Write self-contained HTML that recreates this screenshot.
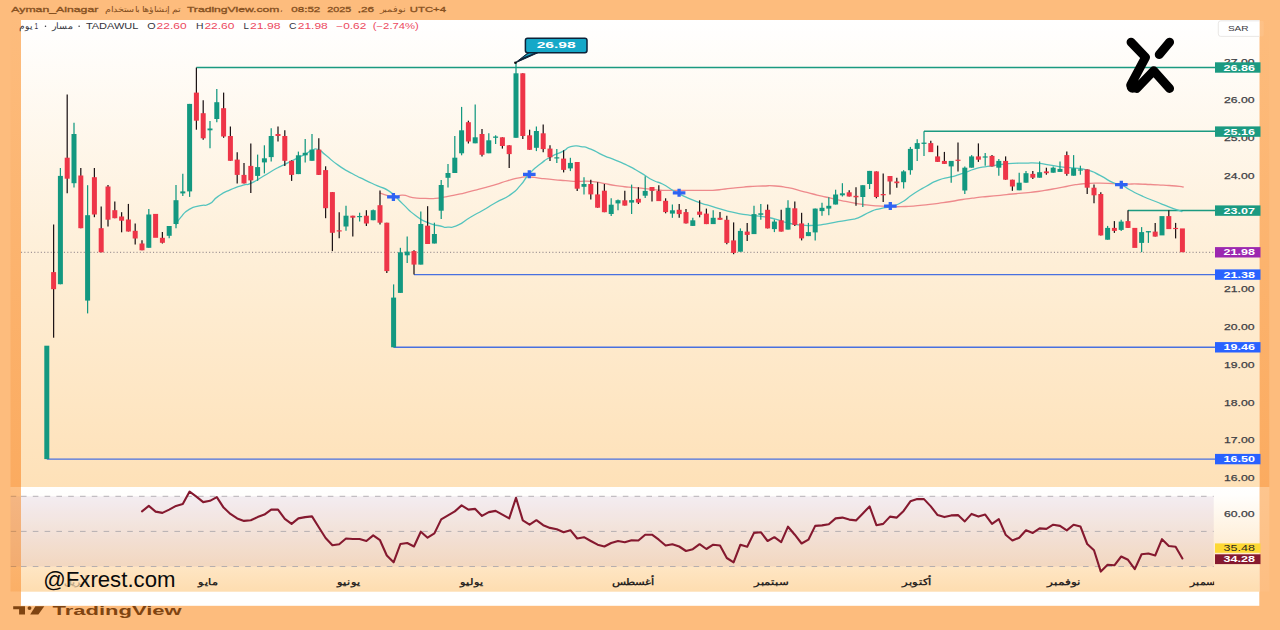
<!DOCTYPE html>
<html lang="en"><head><meta charset="utf-8"><title>TADAWUL chart</title>
<style>
html,body{margin:0;padding:0;background:#FDBC7D;}
body{width:1280px;height:630px;overflow:hidden;position:relative;font-family:"Liberation Sans",sans-serif;}
svg{position:absolute;left:0;top:0;display:block}
text{font-family:"Liberation Sans",sans-serif;}
.b{font-weight:bold}
</style></head><body>
<svg width="1280" height="630" viewBox="0 0 1280 630">
<defs>
<linearGradient id="gMain" x1="0" y1="0" x2="0" y2="1"><stop offset="0" stop-color="#FFFFFF"/><stop offset="0.5" stop-color="#FEEFD8"/><stop offset="1" stop-color="#FEE1B8"/></linearGradient>
<linearGradient id="gRsi" x1="0" y1="0" x2="0" y2="1"><stop offset="0" stop-color="#FFFFFF"/><stop offset="0.08" stop-color="#FFFEFC"/><stop offset="1" stop-color="#FEDDB0"/></linearGradient>
<linearGradient id="gStripA" x1="0" y1="0" x2="0" y2="1"><stop offset="0" stop-color="#FDBC7D"/><stop offset="1" stop-color="#FBAB60"/></linearGradient>
<linearGradient id="gStripB" x1="0" y1="0" x2="0" y2="1"><stop offset="0" stop-color="#FDBF83"/><stop offset="1" stop-color="#FBAF66"/></linearGradient>
<linearGradient id="gStripC" x1="0" y1="0" x2="0" y2="1"><stop offset="0" stop-color="#FDC58E"/><stop offset="1" stop-color="#FDBE82"/></linearGradient>
<clipPath id="clipMain"><rect x="21" y="20" width="1194" height="467"/></clipPath>
<clipPath id="clipAll"><rect x="19.2" y="20" width="1240.1" height="586"/></clipPath>
<clipPath id="clipTime"><rect x="21" y="567" width="1193.2" height="25"/></clipPath>
</defs>

<rect x="0" y="0" width="1280" height="630" fill="#FDBC7D"/>
<rect x="10.5" y="17" width="11" height="470" fill="url(#gStripA)"/>
<rect x="10.5" y="487" width="11" height="104.5" fill="url(#gStripB)"/>
<rect x="10.5" y="496.3" width="10.5" height="70.2" fill="#85569E" fill-opacity="0.07"/>
<line x1="10.8" y1="496.3" x2="16.2" y2="496.3" stroke="#b5865f" stroke-opacity="0.8" stroke-width="0.9"/>
<line x1="10.8" y1="531.4" x2="16.2" y2="531.4" stroke="#b5865f" stroke-opacity="0.8" stroke-width="0.9"/>
<line x1="10.8" y1="566.5" x2="16.2" y2="566.5" stroke="#b5865f" stroke-opacity="0.8" stroke-width="0.9"/>
<rect x="1259" y="17" width="10.3" height="470" fill="url(#gStripA)"/>
<rect x="1259" y="487" width="10.3" height="104.5" fill="url(#gStripC)"/>
<rect x="21" y="20" width="1238.3" height="585.8" fill="#FFFFFF"/>
<rect x="21" y="20" width="1238.3" height="467" fill="url(#gMain)"/>
<rect x="21" y="487" width="1238.3" height="104.7" fill="url(#gRsi)"/>
<rect x="21" y="496.3" width="1192.7" height="70.2" fill="#85569E" fill-opacity="0.10"/>
<line x1="21" y1="496.3" x2="1213.7" y2="496.3" stroke="#aaa6aa" stroke-opacity="0.95" stroke-width="0.9" stroke-dasharray="5.6 6.2"/>
<line x1="21" y1="531.4" x2="1213.7" y2="531.4" stroke="#aaa6aa" stroke-opacity="0.95" stroke-width="0.9" stroke-dasharray="5.6 6.2"/>
<line x1="21" y1="566.5" x2="1213.7" y2="566.5" stroke="#aaa6aa" stroke-opacity="0.95" stroke-width="0.9" stroke-dasharray="5.6 6.2"/>
<line x1="21" y1="252.3" x2="1215" y2="252.3" stroke="#8a7f86" stroke-width="1" stroke-dasharray="1.1 2.2"/>
<line x1="196.39999999999998" y1="67.4" x2="1216" y2="67.4" stroke="#1B9A81" stroke-width="1.5"/>
<line x1="923.9999999999999" y1="131.3" x2="1216" y2="131.3" stroke="#1B9A81" stroke-width="1.5"/>
<line x1="1128.0" y1="210.4" x2="1216" y2="210.4" stroke="#1B9A81" stroke-width="1.5"/>
<line x1="414.0" y1="274.6" x2="1216" y2="274.6" stroke="#4870E0" stroke-width="1.4"/>
<line x1="393.6" y1="347.3" x2="1216" y2="347.3" stroke="#4870E0" stroke-width="1.4"/>
<line x1="46.8" y1="459.1" x2="1216" y2="459.1" stroke="#4870E0" stroke-width="1.4"/>
<path d="M380.1 193.1C384.5 194.3 385.9 195.9 393.4 196.6C400.9 197.3 396.3 194.8 402.7 195.1C409.1 195.4 405.2 196.5 412.7 197.6C420.2 198.7 417.8 198.1 425.3 198.4C432.8 198.7 428.6 198.9 435.3 198.4C442.0 197.9 437.8 198.2 445.3 196.9C452.8 195.6 449.5 196.2 457.9 194.4C466.3 192.6 462.0 193.5 470.4 191.4C478.8 189.3 474.6 190.4 483.0 188.1C491.4 185.8 487.2 187.1 495.5 184.6C503.8 182.1 499.6 182.9 508.0 180.6C516.4 178.3 513.5 178.8 520.6 177.6C527.7 176.4 522.6 176.8 529.3 177.0C536.0 177.2 532.6 177.4 540.6 178.3C548.6 179.2 544.8 178.8 553.2 179.6C561.6 180.4 557.6 180.0 565.7 180.6C573.8 181.2 569.1 181.1 577.5 181.3C585.9 181.5 582.2 180.6 590.8 181.3C599.4 182.0 594.9 182.0 603.3 183.4C611.7 184.8 607.5 184.4 615.9 185.6C624.3 186.8 620.1 186.3 628.4 187.1C636.7 187.9 632.5 187.3 640.9 188.1C649.3 188.9 646.3 188.9 653.5 189.6C660.7 190.3 655.3 190.1 662.5 190.3C669.7 190.5 666.7 190.3 675.1 190.3C683.5 190.3 679.2 190.3 687.6 190.3C696.0 190.3 691.8 190.3 700.2 190.3C708.6 190.3 704.4 190.7 712.7 190.3C721.0 189.9 716.8 189.9 725.2 189.0C733.6 188.1 729.4 188.5 737.8 187.7C746.2 186.9 741.9 187.1 750.3 186.5C758.7 185.9 754.5 186.2 762.9 186.0C771.3 185.8 767.1 185.4 775.4 186.0C783.7 186.6 779.5 186.1 787.9 187.7C796.3 189.3 792.1 188.7 800.5 190.8C808.9 192.9 804.7 191.9 813.0 194.0C821.3 196.1 817.1 195.1 825.5 197.0C833.9 198.9 829.7 198.0 838.1 199.8C846.5 201.6 842.2 200.7 850.6 202.3C859.0 203.9 854.8 203.3 863.2 204.5C871.6 205.7 866.7 205.1 875.7 205.8C884.7 206.5 881.9 206.3 890.3 206.6C898.7 206.9 893.1 206.8 900.8 206.6C908.5 206.4 904.9 206.7 913.3 206.1C921.7 205.5 917.5 205.7 925.9 204.8C934.3 203.9 930.1 204.4 938.4 203.3C946.7 202.2 942.9 202.8 950.9 201.5C958.9 200.2 954.4 200.7 962.5 199.5C970.6 198.3 966.7 198.8 975.1 197.8C983.5 196.8 979.2 197.3 987.6 196.5C996.0 195.7 991.8 196.1 1000.2 195.3C1008.6 194.5 1004.4 194.8 1012.7 194.0C1021.0 193.2 1016.8 193.6 1025.2 192.8C1033.6 192.0 1029.4 192.6 1037.8 191.5C1046.2 190.4 1041.9 190.9 1050.3 189.5C1058.7 188.1 1054.5 188.8 1062.9 187.2C1071.3 185.6 1067.1 185.9 1075.4 184.7C1083.7 183.5 1079.5 184.0 1087.9 183.5C1096.3 183.0 1092.1 183.2 1100.5 183.2C1108.9 183.2 1104.7 183.2 1113.0 183.5C1121.3 183.8 1117.1 183.8 1125.5 184.0C1133.9 184.2 1129.7 183.8 1138.1 184.0C1146.5 184.2 1142.2 184.1 1150.6 184.5C1159.0 184.9 1154.8 184.7 1163.2 185.2C1171.6 185.7 1169.0 185.4 1175.7 186.0C1182.4 186.6 1180.7 186.7 1183.2 187.0" fill="none" stroke="#EE8A8C" stroke-width="1.3" stroke-linecap="round"/>
<path d="M176.2 224.5C177.6 222.2 176.2 222.7 180.5 217.7C184.8 212.7 182.5 213.4 189.2 209.4C195.9 205.4 193.8 207.5 200.5 205.7C207.2 203.9 203.4 207.0 209.3 203.9C215.2 200.8 211.0 201.2 218.1 196.4C225.2 191.6 222.2 193.4 230.6 189.6C239.0 185.8 236.5 187.2 243.2 185.1C249.9 183.0 244.0 186.3 250.7 183.4C257.4 180.5 254.8 181.2 263.2 176.3C271.6 171.4 268.3 173.0 275.8 168.8C283.3 164.6 279.1 167.1 285.8 163.8C292.5 160.5 289.1 162.1 295.8 158.8C302.5 155.5 300.5 156.6 305.9 153.8C311.3 151.0 307.9 151.7 312.1 150.3C316.3 148.9 313.8 147.9 318.4 149.6C323.0 151.3 319.2 150.0 325.9 155.3C332.6 160.6 329.6 159.2 338.5 165.4C347.4 171.6 343.6 168.9 352.5 173.8C361.4 178.7 356.7 176.1 365.1 180.1C373.5 184.1 369.2 182.0 377.6 185.9C386.0 189.8 381.8 185.9 390.2 191.9C398.6 197.9 394.4 196.1 402.7 203.9C411.0 211.7 406.8 208.9 415.2 215.2C423.6 221.5 419.4 219.1 427.8 222.7C436.2 226.3 433.6 224.5 440.3 226.0C447.0 227.5 441.9 227.5 447.8 227.2C453.7 226.9 450.4 228.5 457.9 225.2C465.4 221.9 462.0 222.2 470.4 217.2C478.8 212.2 474.6 215.0 483.0 210.2C491.4 205.4 486.3 207.9 495.5 202.7C504.7 197.5 502.1 200.5 510.5 194.6C518.9 188.7 514.3 192.0 520.6 185.1C526.9 178.2 522.6 180.9 529.3 173.8C536.0 166.7 533.5 169.4 540.6 163.8C547.7 158.2 543.2 161.2 550.7 157.0C558.2 152.8 556.5 154.7 563.2 151.2C569.9 147.7 564.8 148.1 570.7 146.6C576.6 145.1 574.1 145.8 580.8 146.6C587.5 147.4 583.3 146.2 590.8 149.1C598.3 152.0 594.9 151.6 603.3 155.3C611.7 159.0 607.5 156.8 615.9 160.3C624.3 163.8 620.1 161.7 628.4 165.9C636.7 170.1 632.5 168.0 640.9 172.9C649.3 177.8 646.3 176.8 653.5 180.5C660.7 184.2 655.3 180.3 662.5 184.0C669.7 187.7 666.7 186.9 675.1 191.5C683.5 196.1 679.2 194.0 687.6 197.8C696.0 201.6 691.8 199.9 700.2 202.8C708.6 205.7 704.4 204.1 712.7 206.6C721.0 209.1 716.8 208.1 725.2 210.3C733.6 212.5 729.4 211.6 737.8 213.3C746.2 215.0 741.9 214.2 750.3 215.3C758.7 216.4 754.5 215.3 762.9 216.6C771.3 217.9 767.1 217.0 775.4 219.1C783.7 221.2 779.5 221.0 787.9 222.9C796.3 224.8 792.1 224.1 800.5 224.9C808.9 225.7 804.7 225.7 813.0 225.4C821.3 225.1 817.1 225.4 825.5 224.1C833.9 222.8 829.7 223.1 838.1 221.6C846.5 220.1 843.9 220.9 850.6 219.6C857.3 218.3 851.5 220.5 858.2 217.8C864.9 215.1 863.2 214.7 870.7 211.6C878.2 208.5 874.2 210.3 880.7 208.6C887.2 206.9 883.6 208.5 890.3 206.6C897.0 204.7 893.1 207.0 900.8 202.8C908.5 198.6 904.9 199.4 913.3 194.0C921.7 188.6 917.5 191.1 925.9 186.5C934.3 181.9 930.1 183.4 938.4 180.2C946.7 177.0 942.5 179.2 950.9 176.9C959.3 174.6 955.4 175.9 963.5 173.2C971.6 170.5 967.1 171.2 975.1 168.9C983.1 166.6 979.2 167.8 987.6 166.4C996.0 165.0 991.8 165.7 1000.2 164.7C1008.6 163.7 1004.4 163.9 1012.7 163.4C1021.0 162.9 1016.8 163.3 1025.2 163.2C1033.6 163.1 1029.4 162.5 1037.8 163.2C1046.2 163.9 1041.9 163.9 1050.3 165.2C1058.7 166.5 1054.5 166.2 1062.9 167.2C1071.3 168.2 1067.1 167.2 1075.4 168.2C1083.7 169.2 1079.5 167.7 1087.9 170.2C1096.3 172.7 1092.1 171.5 1100.5 175.7C1108.9 179.9 1106.1 179.7 1113.0 182.7C1119.9 185.7 1115.4 182.2 1121.3 184.7C1127.2 187.2 1123.3 186.4 1130.6 190.3C1137.9 194.2 1134.8 192.8 1143.1 196.5C1151.4 200.2 1147.2 198.1 1155.6 201.5C1164.0 204.9 1159.4 203.2 1168.2 206.6C1177.0 210.0 1177.4 209.9 1182.0 211.6" fill="none" stroke="#55C4BE" stroke-width="1.3" stroke-linecap="round"/>
<rect x="44.3" y="345.7" width="5.0" height="113.4" fill="#139880"/>
<line x1="53.6" y1="224.5" x2="53.6" y2="337.7" stroke="#1d1416" stroke-width="1.25"/>
<rect x="51.1" y="272.1" width="5.0" height="17.1" fill="#EE3548"/>
<line x1="60.4" y1="168.0" x2="60.4" y2="284.3" stroke="#139880" stroke-width="1.25"/>
<rect x="57.9" y="175.9" width="5.0" height="108.3" fill="#139880"/>
<line x1="67.2" y1="94.6" x2="67.2" y2="193.2" stroke="#1d1416" stroke-width="1.25"/>
<rect x="64.7" y="157.7" width="5.0" height="21.0" fill="#EE3548"/>
<line x1="74.0" y1="122.7" x2="74.0" y2="187.5" stroke="#139880" stroke-width="1.25"/>
<rect x="71.5" y="134.0" width="5.0" height="49.2" fill="#139880"/>
<line x1="80.8" y1="168.0" x2="80.8" y2="228.2" stroke="#1d1416" stroke-width="1.25"/>
<rect x="78.3" y="175.5" width="5.0" height="52.7" fill="#EE3548"/>
<line x1="87.6" y1="185.2" x2="87.6" y2="313.4" stroke="#139880" stroke-width="1.25"/>
<rect x="85.1" y="215.2" width="5.0" height="85.4" fill="#139880"/>
<line x1="94.4" y1="168.0" x2="94.4" y2="217.2" stroke="#1d1416" stroke-width="1.25"/>
<rect x="91.9" y="177.2" width="5.0" height="37.3" fill="#EE3548"/>
<line x1="101.2" y1="206.4" x2="101.2" y2="252.3" stroke="#1d1416" stroke-width="1.25"/>
<rect x="98.7" y="228.2" width="5.0" height="24.1" fill="#EE3548"/>
<line x1="108.0" y1="185.0" x2="108.0" y2="226.5" stroke="#1d1416" stroke-width="1.25"/>
<rect x="105.5" y="186.5" width="5.0" height="33.2" fill="#EE3548"/>
<line x1="114.8" y1="201.4" x2="114.8" y2="218.2" stroke="#1d1416" stroke-width="1.25"/>
<rect x="112.3" y="210.2" width="5.0" height="8.0" fill="#EE3548"/>
<line x1="121.6" y1="212.2" x2="121.6" y2="232.3" stroke="#1d1416" stroke-width="1.25"/>
<rect x="119.1" y="216.5" width="5.0" height="4.2" fill="#EE3548"/>
<line x1="128.4" y1="203.9" x2="128.4" y2="231.5" stroke="#1d1416" stroke-width="1.25"/>
<rect x="125.9" y="219.5" width="5.0" height="12.0" fill="#EE3548"/>
<line x1="135.2" y1="223.5" x2="135.2" y2="244.5" stroke="#1d1416" stroke-width="1.25"/>
<rect x="132.7" y="230.8" width="5.0" height="7.7" fill="#EE3548"/>
<line x1="142.0" y1="240.3" x2="142.0" y2="250.3" stroke="#1d1416" stroke-width="1.25"/>
<rect x="139.5" y="243.5" width="5.0" height="6.8" fill="#EE3548"/>
<line x1="148.8" y1="208.9" x2="148.8" y2="247.8" stroke="#139880" stroke-width="1.25"/>
<rect x="146.3" y="214.5" width="5.0" height="33.3" fill="#139880"/>
<rect x="153.1" y="213.9" width="5.0" height="23.9" fill="#EE3548"/>
<line x1="162.4" y1="232.0" x2="162.4" y2="243.5" stroke="#1d1416" stroke-width="1.25"/>
<rect x="159.9" y="237.8" width="5.0" height="5.0" fill="#EE3548"/>
<line x1="169.2" y1="226.0" x2="169.2" y2="238.3" stroke="#139880" stroke-width="1.25"/>
<rect x="166.7" y="226.0" width="5.0" height="9.8" fill="#139880"/>
<line x1="176.0" y1="185.1" x2="176.0" y2="228.2" stroke="#139880" stroke-width="1.25"/>
<rect x="173.5" y="200.2" width="5.0" height="23.8" fill="#139880"/>
<line x1="182.8" y1="173.8" x2="182.8" y2="195.9" stroke="#139880" stroke-width="1.25"/>
<rect x="180.3" y="191.4" width="5.0" height="2.0" fill="#139880"/>
<line x1="189.6" y1="103.9" x2="189.6" y2="196.9" stroke="#139880" stroke-width="1.25"/>
<rect x="187.1" y="103.9" width="5.0" height="87.5" fill="#139880"/>
<line x1="196.4" y1="67.6" x2="196.4" y2="129.7" stroke="#1d1416" stroke-width="1.25"/>
<rect x="193.9" y="92.6" width="5.0" height="28.1" fill="#EE3548"/>
<line x1="203.2" y1="100.2" x2="203.2" y2="139.8" stroke="#1d1416" stroke-width="1.25"/>
<rect x="200.7" y="113.2" width="5.0" height="25.1" fill="#EE3548"/>
<line x1="210.0" y1="121.0" x2="210.0" y2="148.3" stroke="#139880" stroke-width="1.25"/>
<rect x="207.5" y="128.5" width="5.0" height="1.8" fill="#139880"/>
<line x1="216.8" y1="88.9" x2="216.8" y2="122.2" stroke="#139880" stroke-width="1.25"/>
<rect x="214.3" y="102.2" width="5.0" height="16.8" fill="#139880"/>
<line x1="223.6" y1="92.6" x2="223.6" y2="137.8" stroke="#1d1416" stroke-width="1.25"/>
<rect x="221.1" y="108.2" width="5.0" height="28.3" fill="#EE3548"/>
<line x1="230.4" y1="126.5" x2="230.4" y2="160.8" stroke="#1d1416" stroke-width="1.25"/>
<rect x="227.9" y="136.0" width="5.0" height="24.8" fill="#EE3548"/>
<line x1="237.2" y1="152.3" x2="237.2" y2="183.4" stroke="#1d1416" stroke-width="1.25"/>
<rect x="234.7" y="159.6" width="5.0" height="15.3" fill="#EE3548"/>
<line x1="244.0" y1="162.9" x2="244.0" y2="183.4" stroke="#1d1416" stroke-width="1.25"/>
<rect x="241.5" y="174.9" width="5.0" height="8.5" fill="#EE3548"/>
<line x1="250.8" y1="143.5" x2="250.8" y2="192.9" stroke="#1d1416" stroke-width="1.25"/>
<rect x="248.3" y="165.9" width="5.0" height="14.5" fill="#EE3548"/>
<line x1="257.6" y1="154.6" x2="257.6" y2="180.9" stroke="#139880" stroke-width="1.25"/>
<rect x="255.1" y="167.1" width="5.0" height="8.8" fill="#139880"/>
<line x1="264.4" y1="145.3" x2="264.4" y2="173.4" stroke="#139880" stroke-width="1.25"/>
<rect x="261.9" y="158.3" width="5.0" height="4.1" fill="#139880"/>
<line x1="271.2" y1="128.2" x2="271.2" y2="161.6" stroke="#139880" stroke-width="1.25"/>
<rect x="268.7" y="136.0" width="5.0" height="21.1" fill="#139880"/>
<line x1="278.0" y1="126.5" x2="278.0" y2="141.5" stroke="#1d1416" stroke-width="1.25"/>
<rect x="275.5" y="134.0" width="5.0" height="2.0" fill="#EE3548"/>
<line x1="284.8" y1="130.3" x2="284.8" y2="166.1" stroke="#1d1416" stroke-width="1.25"/>
<rect x="282.3" y="136.0" width="5.0" height="24.8" fill="#EE3548"/>
<line x1="291.6" y1="160.3" x2="291.6" y2="180.9" stroke="#1d1416" stroke-width="1.25"/>
<rect x="289.1" y="160.8" width="5.0" height="14.1" fill="#EE3548"/>
<line x1="298.4" y1="151.6" x2="298.4" y2="174.1" stroke="#139880" stroke-width="1.25"/>
<rect x="295.9" y="155.3" width="5.0" height="18.8" fill="#139880"/>
<line x1="305.2" y1="139.0" x2="305.2" y2="162.4" stroke="#139880" stroke-width="1.25"/>
<rect x="302.7" y="152.8" width="5.0" height="2.5" fill="#139880"/>
<line x1="312.0" y1="134.0" x2="312.0" y2="160.8" stroke="#139880" stroke-width="1.25"/>
<rect x="309.5" y="149.6" width="5.0" height="11.2" fill="#139880"/>
<line x1="318.8" y1="138.3" x2="318.8" y2="174.9" stroke="#1d1416" stroke-width="1.25"/>
<rect x="316.3" y="149.6" width="5.0" height="25.3" fill="#EE3548"/>
<line x1="325.6" y1="166.3" x2="325.6" y2="218.2" stroke="#1d1416" stroke-width="1.25"/>
<rect x="323.1" y="170.1" width="5.0" height="38.1" fill="#EE3548"/>
<line x1="332.4" y1="192.1" x2="332.4" y2="251.1" stroke="#1d1416" stroke-width="1.25"/>
<rect x="329.9" y="192.1" width="5.0" height="40.7" fill="#EE3548"/>
<line x1="339.2" y1="212.2" x2="339.2" y2="238.3" stroke="#1d1416" stroke-width="1.25"/>
<rect x="336.7" y="230.3" width="5.0" height="1.2" fill="#EE3548"/>
<line x1="346.0" y1="205.7" x2="346.0" y2="230.8" stroke="#139880" stroke-width="1.25"/>
<rect x="343.5" y="215.7" width="5.0" height="10.8" fill="#139880"/>
<line x1="352.8" y1="215.7" x2="352.8" y2="236.5" stroke="#1d1416" stroke-width="1.25"/>
<rect x="350.3" y="215.7" width="5.0" height="2.0" fill="#EE3548"/>
<line x1="359.6" y1="212.7" x2="359.6" y2="221.5" stroke="#139880" stroke-width="1.25"/>
<rect x="357.1" y="216.0" width="5.0" height="1.2" fill="#139880"/>
<line x1="366.4" y1="210.2" x2="366.4" y2="226.0" stroke="#1d1416" stroke-width="1.25"/>
<rect x="363.9" y="215.7" width="5.0" height="7.8" fill="#EE3548"/>
<line x1="373.2" y1="209.4" x2="373.2" y2="220.2" stroke="#139880" stroke-width="1.25"/>
<rect x="370.7" y="210.2" width="5.0" height="10.0" fill="#139880"/>
<line x1="380.0" y1="190.6" x2="380.0" y2="224.5" stroke="#1d1416" stroke-width="1.25"/>
<rect x="377.5" y="205.2" width="5.0" height="17.5" fill="#EE3548"/>
<line x1="386.8" y1="222.7" x2="386.8" y2="272.9" stroke="#1d1416" stroke-width="1.25"/>
<rect x="384.3" y="222.7" width="5.0" height="48.4" fill="#EE3548"/>
<line x1="393.6" y1="284.4" x2="393.6" y2="347.3" stroke="#139880" stroke-width="1.25"/>
<rect x="391.1" y="297.6" width="5.0" height="49.7" fill="#139880"/>
<line x1="400.4" y1="247.8" x2="400.4" y2="292.9" stroke="#139880" stroke-width="1.25"/>
<rect x="397.9" y="252.3" width="5.0" height="40.6" fill="#139880"/>
<line x1="407.2" y1="236.5" x2="407.2" y2="262.9" stroke="#139880" stroke-width="1.25"/>
<rect x="404.7" y="251.6" width="5.0" height="3.7" fill="#139880"/>
<line x1="414.0" y1="250.3" x2="414.0" y2="274.6" stroke="#1d1416" stroke-width="1.25"/>
<rect x="411.5" y="251.1" width="5.0" height="13.5" fill="#EE3548"/>
<line x1="420.8" y1="211.4" x2="420.8" y2="264.6" stroke="#139880" stroke-width="1.25"/>
<rect x="418.3" y="224.0" width="5.0" height="40.6" fill="#139880"/>
<line x1="427.6" y1="206.2" x2="427.6" y2="244.0" stroke="#1d1416" stroke-width="1.25"/>
<rect x="425.1" y="225.7" width="5.0" height="18.3" fill="#EE3548"/>
<line x1="434.4" y1="222.7" x2="434.4" y2="243.5" stroke="#139880" stroke-width="1.25"/>
<rect x="431.9" y="234.0" width="5.0" height="9.5" fill="#139880"/>
<line x1="441.2" y1="180.0" x2="441.2" y2="219.0" stroke="#139880" stroke-width="1.25"/>
<rect x="438.7" y="185.0" width="5.0" height="25.7" fill="#139880"/>
<line x1="448.0" y1="164.0" x2="448.0" y2="187.5" stroke="#139880" stroke-width="1.25"/>
<rect x="445.5" y="173.0" width="5.0" height="4.8" fill="#139880"/>
<line x1="454.8" y1="136.0" x2="454.8" y2="173.0" stroke="#139880" stroke-width="1.25"/>
<rect x="452.3" y="157.7" width="5.0" height="15.3" fill="#139880"/>
<line x1="461.6" y1="106.9" x2="461.6" y2="155.3" stroke="#139880" stroke-width="1.25"/>
<rect x="459.1" y="130.3" width="5.0" height="23.0" fill="#139880"/>
<line x1="468.4" y1="120.7" x2="468.4" y2="143.5" stroke="#1d1416" stroke-width="1.25"/>
<rect x="465.9" y="122.2" width="5.0" height="19.3" fill="#EE3548"/>
<line x1="475.2" y1="104.4" x2="475.2" y2="143.3" stroke="#139880" stroke-width="1.25"/>
<rect x="472.7" y="137.3" width="5.0" height="6.0" fill="#139880"/>
<line x1="482.0" y1="129.0" x2="482.0" y2="156.6" stroke="#1d1416" stroke-width="1.25"/>
<rect x="479.5" y="134.0" width="5.0" height="20.8" fill="#EE3548"/>
<line x1="488.8" y1="133.3" x2="488.8" y2="153.3" stroke="#139880" stroke-width="1.25"/>
<rect x="486.3" y="140.3" width="5.0" height="13.0" fill="#139880"/>
<line x1="495.6" y1="135.3" x2="495.6" y2="144.0" stroke="#139880" stroke-width="1.25"/>
<rect x="493.1" y="136.5" width="5.0" height="1.3" fill="#139880"/>
<line x1="502.4" y1="137.3" x2="502.4" y2="148.6" stroke="#1d1416" stroke-width="1.25"/>
<rect x="499.9" y="137.3" width="5.0" height="8.7" fill="#EE3548"/>
<line x1="509.2" y1="145.3" x2="509.2" y2="167.9" stroke="#1d1416" stroke-width="1.25"/>
<rect x="506.7" y="145.3" width="5.0" height="8.8" fill="#EE3548"/>
<line x1="516.0" y1="63.0" x2="516.0" y2="137.8" stroke="#139880" stroke-width="1.25"/>
<rect x="513.5" y="73.3" width="5.0" height="64.5" fill="#139880"/>
<line x1="522.8" y1="73.3" x2="522.8" y2="139.0" stroke="#1d1416" stroke-width="1.25"/>
<rect x="520.3" y="73.3" width="5.0" height="62.7" fill="#EE3548"/>
<line x1="529.6" y1="129.7" x2="529.6" y2="149.8" stroke="#1d1416" stroke-width="1.25"/>
<rect x="527.1" y="135.3" width="5.0" height="14.5" fill="#EE3548"/>
<line x1="536.4" y1="126.5" x2="536.4" y2="151.1" stroke="#139880" stroke-width="1.25"/>
<rect x="533.9" y="131.0" width="5.0" height="16.8" fill="#139880"/>
<line x1="543.2" y1="124.5" x2="543.2" y2="152.3" stroke="#1d1416" stroke-width="1.25"/>
<rect x="540.7" y="133.3" width="5.0" height="15.8" fill="#EE3548"/>
<line x1="550.0" y1="145.3" x2="550.0" y2="161.1" stroke="#1d1416" stroke-width="1.25"/>
<rect x="547.5" y="148.6" width="5.0" height="8.7" fill="#EE3548"/>
<line x1="556.8" y1="149.1" x2="556.8" y2="162.9" stroke="#139880" stroke-width="1.25"/>
<rect x="554.3" y="157.3" width="5.0" height="1.2" fill="#139880"/>
<line x1="563.6" y1="150.3" x2="563.6" y2="172.4" stroke="#1d1416" stroke-width="1.25"/>
<rect x="561.1" y="158.6" width="5.0" height="11.3" fill="#EE3548"/>
<line x1="570.4" y1="157.8" x2="570.4" y2="171.1" stroke="#139880" stroke-width="1.25"/>
<rect x="567.9" y="162.9" width="5.0" height="5.5" fill="#139880"/>
<line x1="577.2" y1="162.0" x2="577.2" y2="191.0" stroke="#1d1416" stroke-width="1.25"/>
<rect x="574.7" y="162.0" width="5.0" height="26.7" fill="#EE3548"/>
<line x1="584.0" y1="177.2" x2="584.0" y2="194.4" stroke="#139880" stroke-width="1.25"/>
<rect x="581.5" y="184.0" width="5.0" height="2.8" fill="#139880"/>
<line x1="590.8" y1="179.7" x2="590.8" y2="199.5" stroke="#1d1416" stroke-width="1.25"/>
<rect x="588.3" y="184.0" width="5.0" height="10.4" fill="#EE3548"/>
<line x1="597.6" y1="182.2" x2="597.6" y2="207.7" stroke="#1d1416" stroke-width="1.25"/>
<rect x="595.1" y="194.4" width="5.0" height="13.3" fill="#EE3548"/>
<line x1="604.4" y1="184.0" x2="604.4" y2="212.2" stroke="#1d1416" stroke-width="1.25"/>
<rect x="601.9" y="190.7" width="5.0" height="21.5" fill="#EE3548"/>
<line x1="611.2" y1="198.3" x2="611.2" y2="216.0" stroke="#139880" stroke-width="1.25"/>
<rect x="608.7" y="204.7" width="5.0" height="9.3" fill="#139880"/>
<line x1="618.0" y1="199.5" x2="618.0" y2="210.2" stroke="#139880" stroke-width="1.25"/>
<rect x="615.5" y="200.2" width="5.0" height="3.2" fill="#139880"/>
<line x1="624.8" y1="190.7" x2="624.8" y2="205.6" stroke="#1d1416" stroke-width="1.25"/>
<rect x="622.3" y="200.3" width="5.0" height="5.3" fill="#EE3548"/>
<line x1="631.6" y1="184.6" x2="631.6" y2="214.0" stroke="#139880" stroke-width="1.25"/>
<rect x="629.1" y="200.1" width="5.0" height="2.5" fill="#139880"/>
<line x1="638.4" y1="187.2" x2="638.4" y2="204.0" stroke="#1d1416" stroke-width="1.25"/>
<rect x="635.9" y="198.8" width="5.0" height="3.8" fill="#EE3548"/>
<line x1="645.2" y1="176.2" x2="645.2" y2="198.0" stroke="#139880" stroke-width="1.25"/>
<rect x="642.7" y="190.9" width="5.0" height="4.8" fill="#139880"/>
<line x1="652.0" y1="187.0" x2="652.0" y2="201.5" stroke="#1d1416" stroke-width="1.25"/>
<rect x="649.5" y="187.0" width="5.0" height="3.9" fill="#EE3548"/>
<line x1="658.8" y1="185.2" x2="658.8" y2="201.1" stroke="#1d1416" stroke-width="1.25"/>
<rect x="656.3" y="190.9" width="5.0" height="10.2" fill="#EE3548"/>
<line x1="665.6" y1="198.3" x2="665.6" y2="213.3" stroke="#1d1416" stroke-width="1.25"/>
<rect x="663.1" y="200.8" width="5.0" height="11.3" fill="#EE3548"/>
<line x1="672.4" y1="204.5" x2="672.4" y2="217.8" stroke="#139880" stroke-width="1.25"/>
<rect x="669.9" y="210.3" width="5.0" height="3.3" fill="#139880"/>
<line x1="679.2" y1="204.0" x2="679.2" y2="217.8" stroke="#1d1416" stroke-width="1.25"/>
<rect x="676.7" y="209.8" width="5.0" height="4.3" fill="#EE3548"/>
<line x1="686.0" y1="209.0" x2="686.0" y2="223.4" stroke="#1d1416" stroke-width="1.25"/>
<rect x="683.5" y="212.1" width="5.0" height="11.3" fill="#EE3548"/>
<line x1="692.8" y1="217.8" x2="692.8" y2="225.9" stroke="#139880" stroke-width="1.25"/>
<rect x="690.3" y="220.3" width="5.0" height="5.6" fill="#139880"/>
<line x1="699.6" y1="200.3" x2="699.6" y2="217.3" stroke="#1d1416" stroke-width="1.25"/>
<rect x="697.1" y="211.6" width="5.0" height="3.2" fill="#EE3548"/>
<line x1="706.4" y1="208.6" x2="706.4" y2="224.1" stroke="#1d1416" stroke-width="1.25"/>
<rect x="703.9" y="213.6" width="5.0" height="10.5" fill="#EE3548"/>
<line x1="713.2" y1="210.3" x2="713.2" y2="224.1" stroke="#139880" stroke-width="1.25"/>
<rect x="710.7" y="217.8" width="5.0" height="6.3" fill="#139880"/>
<line x1="720.0" y1="212.1" x2="720.0" y2="219.8" stroke="#1d1416" stroke-width="1.25"/>
<rect x="717.5" y="217.8" width="5.0" height="2.0" fill="#EE3548"/>
<line x1="726.8" y1="215.8" x2="726.8" y2="244.2" stroke="#1d1416" stroke-width="1.25"/>
<rect x="724.3" y="219.8" width="5.0" height="23.1" fill="#EE3548"/>
<line x1="733.6" y1="222.4" x2="733.6" y2="254.2" stroke="#1d1416" stroke-width="1.25"/>
<rect x="731.1" y="240.4" width="5.0" height="12.5" fill="#EE3548"/>
<line x1="740.4" y1="228.4" x2="740.4" y2="251.7" stroke="#139880" stroke-width="1.25"/>
<rect x="737.9" y="230.9" width="5.0" height="20.8" fill="#139880"/>
<line x1="747.2" y1="222.9" x2="747.2" y2="240.9" stroke="#1d1416" stroke-width="1.25"/>
<rect x="744.7" y="231.6" width="5.0" height="3.3" fill="#EE3548"/>
<line x1="754.0" y1="205.8" x2="754.0" y2="234.1" stroke="#139880" stroke-width="1.25"/>
<rect x="751.5" y="214.1" width="5.0" height="20.0" fill="#139880"/>
<line x1="760.8" y1="204.0" x2="760.8" y2="219.8" stroke="#139880" stroke-width="1.25"/>
<rect x="758.3" y="213.3" width="5.0" height="1.5" fill="#139880"/>
<line x1="767.6" y1="204.5" x2="767.6" y2="228.4" stroke="#1d1416" stroke-width="1.25"/>
<rect x="765.1" y="209.8" width="5.0" height="18.6" fill="#EE3548"/>
<line x1="774.4" y1="219.6" x2="774.4" y2="232.1" stroke="#139880" stroke-width="1.25"/>
<rect x="771.9" y="221.6" width="5.0" height="7.5" fill="#139880"/>
<line x1="781.2" y1="209.8" x2="781.2" y2="231.6" stroke="#1d1416" stroke-width="1.25"/>
<rect x="778.7" y="220.3" width="5.0" height="11.3" fill="#EE3548"/>
<line x1="788.0" y1="200.3" x2="788.0" y2="229.6" stroke="#139880" stroke-width="1.25"/>
<rect x="785.5" y="207.8" width="5.0" height="21.8" fill="#139880"/>
<line x1="794.8" y1="201.5" x2="794.8" y2="225.9" stroke="#1d1416" stroke-width="1.25"/>
<rect x="792.3" y="208.3" width="5.0" height="16.6" fill="#EE3548"/>
<line x1="801.6" y1="212.8" x2="801.6" y2="240.4" stroke="#1d1416" stroke-width="1.25"/>
<rect x="799.1" y="223.4" width="5.0" height="15.0" fill="#EE3548"/>
<line x1="808.4" y1="222.9" x2="808.4" y2="236.1" stroke="#139880" stroke-width="1.25"/>
<rect x="805.9" y="232.1" width="5.0" height="4.0" fill="#139880"/>
<line x1="815.2" y1="208.6" x2="815.2" y2="240.4" stroke="#139880" stroke-width="1.25"/>
<rect x="812.7" y="208.6" width="5.0" height="23.8" fill="#139880"/>
<line x1="822.0" y1="202.8" x2="822.0" y2="215.8" stroke="#139880" stroke-width="1.25"/>
<rect x="819.5" y="207.8" width="5.0" height="3.3" fill="#139880"/>
<line x1="828.8" y1="197.3" x2="828.8" y2="215.3" stroke="#139880" stroke-width="1.25"/>
<rect x="826.3" y="205.8" width="5.0" height="2.8" fill="#139880"/>
<line x1="835.6" y1="189.7" x2="835.6" y2="204.5" stroke="#139880" stroke-width="1.25"/>
<rect x="833.1" y="194.5" width="5.0" height="10.0" fill="#139880"/>
<line x1="842.4" y1="183.2" x2="842.4" y2="196.5" stroke="#139880" stroke-width="1.25"/>
<rect x="839.9" y="193.3" width="5.0" height="2.0" fill="#139880"/>
<line x1="849.2" y1="190.3" x2="849.2" y2="196.5" stroke="#1d1416" stroke-width="1.25"/>
<rect x="846.7" y="192.3" width="5.0" height="4.2" fill="#EE3548"/>
<line x1="856.0" y1="187.2" x2="856.0" y2="205.8" stroke="#1d1416" stroke-width="1.25"/>
<rect x="853.5" y="195.8" width="5.0" height="1.5" fill="#EE3548"/>
<line x1="862.8" y1="185.2" x2="862.8" y2="207.1" stroke="#139880" stroke-width="1.25"/>
<rect x="860.3" y="185.2" width="5.0" height="11.8" fill="#139880"/>
<line x1="869.6" y1="170.9" x2="869.6" y2="189.0" stroke="#139880" stroke-width="1.25"/>
<rect x="867.1" y="170.9" width="5.0" height="13.1" fill="#139880"/>
<line x1="876.4" y1="171.4" x2="876.4" y2="198.3" stroke="#1d1416" stroke-width="1.25"/>
<rect x="873.9" y="171.4" width="5.0" height="25.6" fill="#EE3548"/>
<line x1="883.2" y1="173.4" x2="883.2" y2="202.0" stroke="#1d1416" stroke-width="1.25"/>
<rect x="880.7" y="194.0" width="5.0" height="1.3" fill="#EE3548"/>
<line x1="890.0" y1="176.0" x2="890.0" y2="194.5" stroke="#1d1416" stroke-width="1.25"/>
<rect x="887.5" y="176.0" width="5.0" height="5.5" fill="#EE3548"/>
<line x1="896.8" y1="177.7" x2="896.8" y2="187.7" stroke="#1d1416" stroke-width="1.25"/>
<rect x="894.3" y="181.5" width="5.0" height="1.7" fill="#EE3548"/>
<line x1="903.6" y1="170.2" x2="903.6" y2="188.5" stroke="#139880" stroke-width="1.25"/>
<rect x="901.1" y="171.4" width="5.0" height="10.8" fill="#139880"/>
<line x1="910.4" y1="146.9" x2="910.4" y2="174.7" stroke="#139880" stroke-width="1.25"/>
<rect x="907.9" y="148.9" width="5.0" height="21.3" fill="#139880"/>
<line x1="917.2" y1="139.3" x2="917.2" y2="160.9" stroke="#139880" stroke-width="1.25"/>
<rect x="914.7" y="143.1" width="5.0" height="5.8" fill="#139880"/>
<line x1="924.0" y1="131.3" x2="924.0" y2="155.9" stroke="#139880" stroke-width="1.25"/>
<rect x="921.5" y="142.6" width="5.0" height="1.3" fill="#139880"/>
<line x1="930.8" y1="140.8" x2="930.8" y2="152.1" stroke="#1d1416" stroke-width="1.25"/>
<rect x="928.3" y="143.1" width="5.0" height="9.0" fill="#EE3548"/>
<line x1="937.6" y1="145.6" x2="937.6" y2="161.9" stroke="#1d1416" stroke-width="1.25"/>
<rect x="935.1" y="156.4" width="5.0" height="5.5" fill="#EE3548"/>
<line x1="944.4" y1="151.9" x2="944.4" y2="163.9" stroke="#1d1416" stroke-width="1.25"/>
<rect x="941.9" y="160.9" width="5.0" height="3.0" fill="#EE3548"/>
<line x1="951.2" y1="160.9" x2="951.2" y2="182.7" stroke="#139880" stroke-width="1.25"/>
<rect x="948.7" y="160.9" width="5.0" height="5.5" fill="#139880"/>
<line x1="958.0" y1="142.6" x2="958.0" y2="171.4" stroke="#1d1416" stroke-width="1.25"/>
<rect x="955.5" y="159.7" width="5.0" height="1.2" fill="#EE3548"/>
<line x1="964.8" y1="166.4" x2="964.8" y2="194.0" stroke="#139880" stroke-width="1.25"/>
<rect x="962.3" y="167.7" width="5.0" height="22.8" fill="#139880"/>
<line x1="971.6" y1="155.1" x2="971.6" y2="167.7" stroke="#139880" stroke-width="1.25"/>
<rect x="969.1" y="156.4" width="5.0" height="11.3" fill="#139880"/>
<line x1="978.4" y1="143.4" x2="978.4" y2="161.9" stroke="#1d1416" stroke-width="1.25"/>
<rect x="975.9" y="156.4" width="5.0" height="3.3" fill="#EE3548"/>
<line x1="985.2" y1="153.1" x2="985.2" y2="165.7" stroke="#139880" stroke-width="1.25"/>
<rect x="982.7" y="156.4" width="5.0" height="1.2" fill="#139880"/>
<line x1="992.0" y1="155.1" x2="992.0" y2="166.4" stroke="#1d1416" stroke-width="1.25"/>
<rect x="989.5" y="155.9" width="5.0" height="10.5" fill="#EE3548"/>
<line x1="998.8" y1="158.9" x2="998.8" y2="175.7" stroke="#139880" stroke-width="1.25"/>
<rect x="996.3" y="160.9" width="5.0" height="6.8" fill="#139880"/>
<line x1="1005.6" y1="156.4" x2="1005.6" y2="179.7" stroke="#1d1416" stroke-width="1.25"/>
<rect x="1003.1" y="160.9" width="5.0" height="18.8" fill="#EE3548"/>
<line x1="1012.4" y1="179.7" x2="1012.4" y2="190.8" stroke="#1d1416" stroke-width="1.25"/>
<rect x="1009.9" y="179.7" width="5.0" height="6.8" fill="#EE3548"/>
<line x1="1019.2" y1="172.7" x2="1019.2" y2="190.3" stroke="#139880" stroke-width="1.25"/>
<rect x="1016.7" y="182.7" width="5.0" height="7.6" fill="#139880"/>
<line x1="1026.0" y1="170.9" x2="1026.0" y2="182.7" stroke="#139880" stroke-width="1.25"/>
<rect x="1023.5" y="173.2" width="5.0" height="9.5" fill="#139880"/>
<line x1="1032.8" y1="170.9" x2="1032.8" y2="179.0" stroke="#1d1416" stroke-width="1.25"/>
<rect x="1030.3" y="173.9" width="5.0" height="3.8" fill="#EE3548"/>
<line x1="1039.6" y1="161.4" x2="1039.6" y2="177.7" stroke="#139880" stroke-width="1.25"/>
<rect x="1037.1" y="172.2" width="5.0" height="5.5" fill="#139880"/>
<line x1="1046.4" y1="167.7" x2="1046.4" y2="174.7" stroke="#1d1416" stroke-width="1.25"/>
<rect x="1043.9" y="171.4" width="5.0" height="1.8" fill="#EE3548"/>
<line x1="1053.2" y1="166.4" x2="1053.2" y2="172.7" stroke="#139880" stroke-width="1.25"/>
<rect x="1050.7" y="167.7" width="5.0" height="5.0" fill="#139880"/>
<line x1="1060.0" y1="161.4" x2="1060.0" y2="171.9" stroke="#139880" stroke-width="1.25"/>
<rect x="1057.5" y="168.9" width="5.0" height="3.0" fill="#139880"/>
<line x1="1066.8" y1="151.4" x2="1066.8" y2="175.7" stroke="#1d1416" stroke-width="1.25"/>
<rect x="1064.3" y="155.1" width="5.0" height="18.8" fill="#EE3548"/>
<line x1="1073.6" y1="155.1" x2="1073.6" y2="175.7" stroke="#139880" stroke-width="1.25"/>
<rect x="1071.1" y="168.2" width="5.0" height="7.5" fill="#139880"/>
<line x1="1080.4" y1="165.7" x2="1080.4" y2="174.7" stroke="#139880" stroke-width="1.25"/>
<rect x="1077.9" y="169.4" width="5.0" height="1.2" fill="#139880"/>
<line x1="1087.2" y1="169.4" x2="1087.2" y2="194.0" stroke="#1d1416" stroke-width="1.25"/>
<rect x="1084.7" y="169.4" width="5.0" height="18.3" fill="#EE3548"/>
<line x1="1094.0" y1="184.5" x2="1094.0" y2="203.3" stroke="#1d1416" stroke-width="1.25"/>
<rect x="1091.5" y="187.7" width="5.0" height="7.6" fill="#EE3548"/>
<line x1="1100.8" y1="192.3" x2="1100.8" y2="235.4" stroke="#1d1416" stroke-width="1.25"/>
<rect x="1098.3" y="194.0" width="5.0" height="41.4" fill="#EE3548"/>
<line x1="1107.6" y1="225.9" x2="1107.6" y2="239.7" stroke="#139880" stroke-width="1.25"/>
<rect x="1105.1" y="227.9" width="5.0" height="11.8" fill="#139880"/>
<line x1="1114.4" y1="221.1" x2="1114.4" y2="232.9" stroke="#1d1416" stroke-width="1.25"/>
<rect x="1111.9" y="227.9" width="5.0" height="3.0" fill="#EE3548"/>
<line x1="1121.2" y1="219.8" x2="1121.2" y2="230.9" stroke="#139880" stroke-width="1.25"/>
<rect x="1118.7" y="221.6" width="5.0" height="8.3" fill="#139880"/>
<line x1="1128.0" y1="210.3" x2="1128.0" y2="227.9" stroke="#1d1416" stroke-width="1.25"/>
<rect x="1125.5" y="221.1" width="5.0" height="6.8" fill="#EE3548"/>
<rect x="1132.3" y="227.9" width="5.0" height="20.0" fill="#EE3548"/>
<line x1="1141.6" y1="227.1" x2="1141.6" y2="252.2" stroke="#139880" stroke-width="1.25"/>
<rect x="1139.1" y="232.1" width="5.0" height="10.8" fill="#139880"/>
<line x1="1148.4" y1="231.1" x2="1148.4" y2="242.9" stroke="#139880" stroke-width="1.25"/>
<rect x="1145.9" y="231.1" width="5.0" height="1.3" fill="#139880"/>
<line x1="1155.2" y1="222.9" x2="1155.2" y2="236.6" stroke="#1d1416" stroke-width="1.25"/>
<rect x="1152.7" y="231.6" width="5.0" height="5.0" fill="#EE3548"/>
<rect x="1159.5" y="216.1" width="5.0" height="19.3" fill="#139880"/>
<line x1="1168.8" y1="210.3" x2="1168.8" y2="229.1" stroke="#1d1416" stroke-width="1.25"/>
<rect x="1166.3" y="216.1" width="5.0" height="13.0" fill="#EE3548"/>
<line x1="1175.6" y1="222.9" x2="1175.6" y2="238.4" stroke="#1d1416" stroke-width="1.25"/>
<rect x="1173.1" y="227.9" width="5.0" height="1.2" fill="#EE3548"/>
<rect x="1179.9" y="228.4" width="5.0" height="23.8" fill="#EE3548"/>
<path d="M387.1 196.9H399.7M393.4 192.9V200.9" stroke="#2F63F3" stroke-width="3.3" fill="none"/>
<path d="M523.0 174.3H535.6M529.3 170.3V178.3" stroke="#2F63F3" stroke-width="3.3" fill="none"/>
<path d="M672.8 192.8H685.4M679.1 188.8V196.8" stroke="#2F63F3" stroke-width="3.3" fill="none"/>
<path d="M884.0 206.1H896.6M890.3 202.1V210.1" stroke="#2F63F3" stroke-width="3.3" fill="none"/>
<path d="M1115.0 184.7H1127.6M1121.3 180.7V188.7" stroke="#2F63F3" stroke-width="3.3" fill="none"/>
<polyline points="142.0,511.4 148.8,505.9 155.6,511.6 162.4,512.9 169.2,509.6 176.0,505.9 182.8,504.1 189.6,491.6 196.4,496.6 203.2,502.1 210.0,500.8 216.8,497.1 223.6,507.6 230.4,513.9 237.2,518.4 244.0,520.9 250.8,520.2 257.6,517.1 264.4,514.6 271.2,509.6 278.0,509.6 284.8,518.9 291.6,523.9 298.4,518.4 305.2,517.1 312.0,516.4 318.8,527.2 325.6,538.0 332.4,545.2 339.2,544.2 346.0,538.5 352.8,539.0 359.6,539.0 366.4,541.0 373.2,535.4 380.0,540.2 386.8,555.5 393.6,562.3 400.4,544.0 407.2,543.0 414.0,546.5 420.8,531.7 427.6,537.7 434.4,533.4 441.2,519.4 448.0,515.4 454.8,511.4 461.6,505.4 468.4,509.6 475.2,508.9 482.0,515.9 488.8,512.1 495.6,510.9 502.4,514.6 509.2,518.4 516.0,497.8 522.8,520.4 529.6,524.7 536.4,520.2 543.2,525.2 550.0,527.9 556.8,529.2 563.6,532.2 570.4,530.2 577.2,538.5 584.0,537.2 590.8,541.0 597.6,544.7 604.4,546.5 611.2,543.0 618.0,541.0 624.8,542.2 631.6,540.2 638.4,540.5 645.2,534.7 652.0,534.7 658.8,539.7 665.6,545.5 672.4,544.2 679.2,546.5 686.0,551.0 692.8,549.2 699.6,544.2 706.4,549.0 713.2,544.7 720.0,545.5 726.8,558.0 733.6,562.3 740.4,544.7 747.2,546.7 754.0,532.9 760.8,532.2 767.6,541.0 774.4,537.2 781.2,542.2 788.0,526.7 794.8,534.7 801.6,543.5 808.4,539.7 815.2,525.9 822.0,525.4 828.8,524.2 835.6,518.4 842.4,517.6 849.2,519.6 856.0,520.4 862.8,513.4 869.6,506.4 876.4,525.2 883.2,523.9 890.0,516.6 896.8,517.6 903.6,510.9 910.4,501.3 917.2,499.1 924.0,499.1 930.8,506.4 937.6,515.1 944.4,517.1 951.2,515.4 958.0,515.1 964.8,521.4 971.6,513.9 978.4,516.6 985.2,514.6 992.0,523.9 998.8,519.1 1005.6,534.7 1012.4,540.5 1019.2,537.7 1026.0,530.2 1032.8,532.9 1039.6,528.4 1046.4,528.9 1053.2,524.7 1060.0,525.9 1066.8,530.4 1073.6,524.7 1080.4,526.4 1087.2,544.0 1094.0,550.2 1100.8,571.6 1107.6,564.8 1114.4,565.3 1121.2,556.5 1128.0,559.8 1134.8,569.1 1141.6,554.3 1148.4,553.5 1155.2,555.5 1162.0,539.2 1168.8,546.0 1175.6,546.7 1182.4,558.5" fill="none" stroke="#85192F" stroke-width="2.1" stroke-linejoin="round" stroke-linecap="round" />
<g fill="none" stroke="#000" stroke-width="8.9" stroke-linecap="round" stroke-linejoin="round"><polyline points="1131,42.1 1145.5,57.3 1130.8,84.9 1136.7,88.5 1153.7,70.7 1169.6,88.5"/><line x1="1169.6" y1="42.1" x2="1159.2" y2="54.6"/></g>
<circle cx="1132.6" cy="86.9" r="5.9" fill="#000"/>
<path d="M515.2 62.9 L528.5 52.5 L538.5 52.5 Z" fill="#0c2238" stroke="#0c2238" stroke-width="1"/>
<path d="M522.5 57.8 L530 52.6 L535.5 52.6 Z" fill="#15A8C8"/>
<rect x="525.4" y="38.2" width="61.6" height="14.6" rx="2.2" fill="#15A8C8" stroke="#0c2238" stroke-width="1.5"/>
<circle cx="515.4" cy="62.8" r="1.3" fill="#111"/>
<g clip-path="url(#clipAll)"><rect x="1218.3" y="20.8" width="45.5" height="15.6" rx="2.5" fill="#FFFFFF" stroke="#E4E1DE" stroke-width="0.8"/></g>
<rect x="1259.3" y="20.8" width="4.5" height="15.6" rx="2" fill="#FFFFFF" fill-opacity="0.08"/>
<text x="1224" y="65.39999999999999" font-size="8.8" fill="#424245" text-anchor="start" textLength="30.5" lengthAdjust="spacingAndGlyphs" stroke="#3f3f46" stroke-width="0.25">27.00</text>
<text x="1224" y="103.1" font-size="8.8" fill="#424245" text-anchor="start" textLength="30.5" lengthAdjust="spacingAndGlyphs" stroke="#3f3f46" stroke-width="0.25">26.00</text>
<text x="1224" y="141.0" font-size="8.8" fill="#424245" text-anchor="start" textLength="30.5" lengthAdjust="spacingAndGlyphs" stroke="#3f3f46" stroke-width="0.25">25.00</text>
<text x="1224" y="178.7" font-size="8.8" fill="#424245" text-anchor="start" textLength="30.5" lengthAdjust="spacingAndGlyphs" stroke="#3f3f46" stroke-width="0.25">24.00</text>
<text x="1224" y="292.1" font-size="8.8" fill="#424245" text-anchor="start" textLength="30.5" lengthAdjust="spacingAndGlyphs" stroke="#3f3f46" stroke-width="0.25">21.00</text>
<text x="1224" y="329.90000000000003" font-size="8.8" fill="#424245" text-anchor="start" textLength="30.5" lengthAdjust="spacingAndGlyphs" stroke="#3f3f46" stroke-width="0.25">20.00</text>
<text x="1224" y="367.70000000000005" font-size="8.8" fill="#424245" text-anchor="start" textLength="30.5" lengthAdjust="spacingAndGlyphs" stroke="#3f3f46" stroke-width="0.25">19.00</text>
<text x="1224" y="405.5" font-size="8.8" fill="#424245" text-anchor="start" textLength="30.5" lengthAdjust="spacingAndGlyphs" stroke="#3f3f46" stroke-width="0.25">18.00</text>
<text x="1224" y="443.3" font-size="8.8" fill="#424245" text-anchor="start" textLength="30.5" lengthAdjust="spacingAndGlyphs" stroke="#3f3f46" stroke-width="0.25">17.00</text>
<text x="1224" y="481.1" font-size="8.8" fill="#424245" text-anchor="start" textLength="30.5" lengthAdjust="spacingAndGlyphs" stroke="#3f3f46" stroke-width="0.25">16.00</text>
<text x="1224" y="516.5" font-size="8.8" fill="#424245" text-anchor="start" textLength="30.5" lengthAdjust="spacingAndGlyphs" stroke="#3f3f46" stroke-width="0.25">60.00</text>
<rect x="1215" y="62.3" width="45.5" height="10.4" fill="#1B9A81"/>
<text x="1223.6" y="70.6" font-size="8.8" fill="#fff" text-anchor="start" class="b" textLength="31.4" lengthAdjust="spacingAndGlyphs" >26.86</text>
<rect x="1215" y="126.4" width="45.5" height="10.4" fill="#1B9A81"/>
<text x="1223.6" y="134.7" font-size="8.8" fill="#fff" text-anchor="start" class="b" textLength="31.4" lengthAdjust="spacingAndGlyphs" >25.16</text>
<rect x="1215" y="205.4" width="45.5" height="10.4" fill="#1B9A81"/>
<text x="1223.6" y="213.7" font-size="8.8" fill="#fff" text-anchor="start" class="b" textLength="31.4" lengthAdjust="spacingAndGlyphs" >23.07</text>
<rect x="1215" y="247.1" width="45.5" height="10.4" fill="#9C27B0"/>
<text x="1223.6" y="255.4" font-size="8.8" fill="#fff" text-anchor="start" class="b" textLength="31.4" lengthAdjust="spacingAndGlyphs" >21.98</text>
<rect x="1215" y="269.4" width="45.5" height="10.4" fill="#2962FF"/>
<text x="1223.6" y="277.70000000000005" font-size="8.8" fill="#fff" text-anchor="start" class="b" textLength="31.4" lengthAdjust="spacingAndGlyphs" >21.38</text>
<rect x="1215" y="342.1" width="45.5" height="10.4" fill="#2962FF"/>
<text x="1223.6" y="350.40000000000003" font-size="8.8" fill="#fff" text-anchor="start" class="b" textLength="31.4" lengthAdjust="spacingAndGlyphs" >19.46</text>
<rect x="1215" y="453.9" width="45.5" height="10.4" fill="#2962FF"/>
<text x="1223.6" y="462.20000000000005" font-size="8.8" fill="#fff" text-anchor="start" class="b" textLength="31.4" lengthAdjust="spacingAndGlyphs" >16.50</text>
<rect x="1215" y="543.4" width="45.5" height="9.4" fill="#FDD835"/>
<text x="1223.6" y="551.2" font-size="8.8" fill="#2e2a20" text-anchor="start" textLength="31.4" lengthAdjust="spacingAndGlyphs" >35.48</text>
<rect x="1215" y="554.3" width="45.5" height="9.8" fill="#85192F"/>
<text x="1223.6" y="562.3000000000001" font-size="8.8" fill="#fff" text-anchor="start" class="b" textLength="31.4" lengthAdjust="spacingAndGlyphs" >34.28</text>
<text x="1227.9" y="31.1" font-size="8.0" fill="#3a3a40" text-anchor="start" textLength="20.7" lengthAdjust="spacingAndGlyphs" >SAR</text>
<text x="536.7" y="48.3" font-size="8.8" fill="#fff" text-anchor="start" class="b" textLength="39" lengthAdjust="spacingAndGlyphs" >26.98</text>
<text x="11.3" y="12.1" font-size="7.8" fill="#85501f" text-anchor="start" textLength="87" lengthAdjust="spacingAndGlyphs" stroke="#85501f" stroke-width="0.3">Ayman_Alnagar</text>
<text x="142.7" y="11.6" font-size="7.8" fill="#85501f" text-anchor="middle" textLength="76" lengthAdjust="spacingAndGlyphs">تم إنشاؤها باستخدام</text>
<text x="186.9" y="12.1" font-size="7.8" fill="#85501f" text-anchor="start" textLength="92.5" lengthAdjust="spacingAndGlyphs" stroke="#85501f" stroke-width="0.3">TradingView.com</text>
<text x="281.4" y="11.6" font-size="7.8" fill="#85501f" text-anchor="middle">،</text>
<text x="291.3" y="12.1" font-size="7.8" fill="#85501f" text-anchor="start" textLength="29" lengthAdjust="spacingAndGlyphs" stroke="#85501f" stroke-width="0.3">08:52</text>
<text x="327.3" y="12.1" font-size="7.8" fill="#85501f" text-anchor="start" textLength="24" lengthAdjust="spacingAndGlyphs" stroke="#85501f" stroke-width="0.3">2025</text>
<text x="357.8" y="12.1" font-size="7.8" fill="#85501f" text-anchor="start" textLength="16.3" lengthAdjust="spacingAndGlyphs" stroke="#85501f" stroke-width="0.3">,26</text>
<text x="392.5" y="11.6" font-size="7.8" fill="#85501f" text-anchor="middle" textLength="26" lengthAdjust="spacingAndGlyphs">نوفمبر</text>
<text x="409.8" y="12.1" font-size="7.8" fill="#85501f" text-anchor="start" textLength="36.2" lengthAdjust="spacingAndGlyphs" stroke="#85501f" stroke-width="0.3">UTC+4</text>
<g clip-path="url(#clipAll)">
<text x="26.4" y="28.9" font-size="8.5" fill="#33333b" text-anchor="middle" textLength="14" lengthAdjust="spacingAndGlyphs">يوم</text>
</g>
<text x="34.4" y="29.3" font-size="8.5" fill="#33333b" text-anchor="start" textLength="3.6" lengthAdjust="spacingAndGlyphs" >1</text>
<circle cx="45.5" cy="26.3" r="0.75" fill="#33333b"/>
<text x="62.4" y="28.9" font-size="8.5" fill="#33333b" text-anchor="middle" textLength="21" lengthAdjust="spacingAndGlyphs">مسار</text>
<circle cx="79.1" cy="26.3" r="0.75" fill="#33333b"/>
<text x="85.9" y="29.3" font-size="8.5" fill="#33333b" text-anchor="start" textLength="52.5" lengthAdjust="spacingAndGlyphs" >TADAWUL</text>
<text x="147.2" y="29.3" font-size="8.5" fill="#33333b" text-anchor="start" textLength="8.4" lengthAdjust="spacingAndGlyphs" >O</text>
<text x="156.6" y="29.3" font-size="8.5" fill="#EC4A5E" text-anchor="start" textLength="30" lengthAdjust="spacingAndGlyphs" >22.60</text>
<text x="196" y="29.3" font-size="8.5" fill="#33333b" text-anchor="start" textLength="7.5" lengthAdjust="spacingAndGlyphs" >H</text>
<text x="204.4" y="29.3" font-size="8.5" fill="#EC4A5E" text-anchor="start" textLength="30" lengthAdjust="spacingAndGlyphs" >22.60</text>
<text x="243.4" y="29.3" font-size="8.5" fill="#33333b" text-anchor="start" textLength="5.4" lengthAdjust="spacingAndGlyphs" >L</text>
<text x="250" y="29.3" font-size="8.5" fill="#EC4A5E" text-anchor="start" textLength="30.4" lengthAdjust="spacingAndGlyphs" >21.98</text>
<text x="289" y="29.3" font-size="8.5" fill="#33333b" text-anchor="start" textLength="7.5" lengthAdjust="spacingAndGlyphs" >C</text>
<text x="297.8" y="29.3" font-size="8.5" fill="#EC4A5E" text-anchor="start" textLength="30" lengthAdjust="spacingAndGlyphs" >21.98</text>
<text x="336.3" y="29.3" font-size="8.5" fill="#EC4A5E" text-anchor="start" textLength="30" lengthAdjust="spacingAndGlyphs" >−0.62</text>
<text x="372.8" y="29.3" font-size="8.5" fill="#EC4A5E" text-anchor="start" textLength="46" lengthAdjust="spacingAndGlyphs" >(−2.74%)</text>
<text x="76" y="585.1" font-size="9" fill="#2a2522" opacity="0.3" text-anchor="middle" class="b" textLength="25" lengthAdjust="spacingAndGlyphs">أبريل</text>
<text x="208.4" y="585.1" font-size="9" fill="#2a2522" text-anchor="middle" class="b" textLength="20" lengthAdjust="spacingAndGlyphs">مايو</text>
<text x="348.8" y="585.1" font-size="9" fill="#2a2522" text-anchor="middle" class="b" textLength="24" lengthAdjust="spacingAndGlyphs">يونيو</text>
<text x="471.8" y="585.1" font-size="9" fill="#2a2522" text-anchor="middle" class="b" textLength="24" lengthAdjust="spacingAndGlyphs">يوليو</text>
<text x="633.4" y="585.1" font-size="9" fill="#2a2522" text-anchor="middle" class="b" textLength="43.6" lengthAdjust="spacingAndGlyphs">أغسطس</text>
<text x="771.6" y="585.1" font-size="9" fill="#2a2522" text-anchor="middle" class="b" textLength="35" lengthAdjust="spacingAndGlyphs">سبتمبر</text>
<text x="917" y="585.1" font-size="9" fill="#2a2522" text-anchor="middle" class="b" textLength="30" lengthAdjust="spacingAndGlyphs">أكتوبر</text>
<text x="1064.4" y="585.1" font-size="9" fill="#2a2522" text-anchor="middle" class="b" textLength="34" lengthAdjust="spacingAndGlyphs">نوفمبر</text>
<g clip-path="url(#clipTime)">
<text x="1207.3" y="585.1" font-size="9" fill="#2a2522" text-anchor="middle" class="b" textLength="34" lengthAdjust="spacingAndGlyphs">ديسمبر</text>
</g>
<text x="43.2" y="587.2" font-size="22.3" fill="#0a0a0a" text-anchor="start" textLength="132.3" lengthAdjust="spacingAndGlyphs" >@Fxrest.com</text>
<g fill="#7f4411"><path d="M13.2 606.2 H25 V614.6 H19.1 V609.2 H13.2 Z"/><circle cx="29.5" cy="608.1" r="1.95"/><path d="M35.4 606.2 H44.3 L38.4 614.6 H30.2 Z"/></g>
<text x="52.6" y="614.6" font-size="12" fill="#7f4411" text-anchor="start" class="b" textLength="129" lengthAdjust="spacingAndGlyphs" >TradingView</text>
</svg>
</body></html>
